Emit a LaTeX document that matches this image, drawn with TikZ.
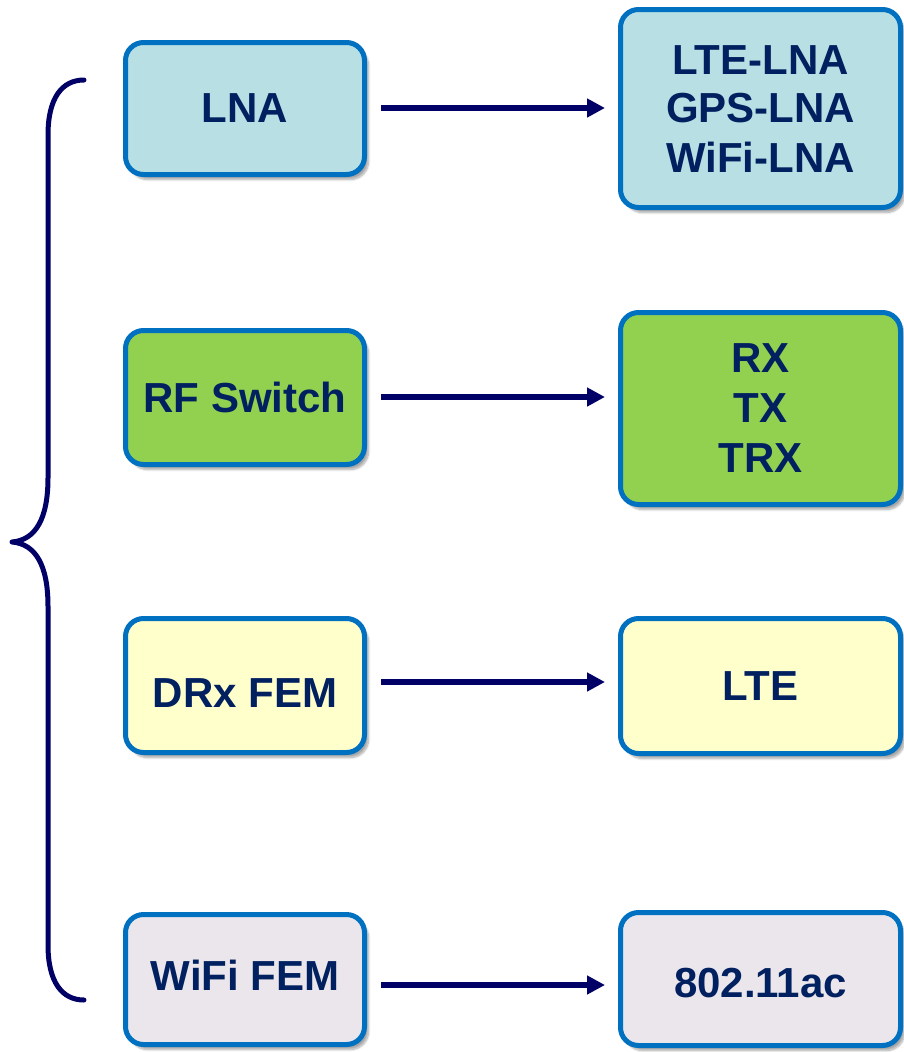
\documentclass[tikz,border=0pt]{standalone}
\usepackage{fontspec}
\setmainfont{Liberation Sans}
\usetikzlibrary{arrows.meta,shadows.blur}
\definecolor{navy}{HTML}{000066}
\definecolor{txt}{HTML}{002060}
\definecolor{bord}{HTML}{0070C0}
\definecolor{lnafill}{HTML}{B8DFE4}
\definecolor{rffill}{HTML}{92D050}
\definecolor{drxfill}{HTML}{FFFFCC}
\definecolor{wififill}{HTML}{EBE6EB}
\begin{document}
\begin{tikzpicture}[x=1pt,y=-1pt,
  box/.style={draw=bord, line width=5pt, rounded corners=18pt, align=center,
    text=txt, font=\fontsize{42}{50}\selectfont\bfseries, inner sep=0pt,
    blur shadow={shadow xshift=4pt, shadow yshift=-5pt, shadow blur steps=8, shadow opacity=35}},
  lbox/.style={box, minimum width=239pt},
  rbox/.style={box, minimum width=280pt},
  arr/.style={draw=navy, line width=6pt, -{Triangle[length=18pt,width=18pt]},
    shorten <=14pt, shorten >=13pt},
  brace/.style={draw=navy, line width=5pt, line cap=round, line join=round}
]
\useasboundingbox (0,0) rectangle (903,1052);

% left boxes
\node[lbox, fill=lnafill, minimum height=132pt] (lna) at (245,108.5) {LNA};
\node[lbox, fill=rffill, minimum height=134pt] (rf) at (245,397.5) {RF Switch};
\node[lbox, fill=drxfill, minimum height=134pt] (drx) at (245,685.5) {\raisebox{-7.5pt}[\height][\depth]{DRx FEM}};
\node[lbox, fill=wififill, minimum height=130pt] (wifi) at (245,979.5) {\raisebox{4.5pt}[\height][\depth]{WiFi FEM}};

% right boxes
\node[rbox, fill=lnafill, minimum height=198pt] (lnar) at (760.5,108.5) {\raisebox{-1.5pt}[\height][\depth]{LTE-LNA}\\GPS-LNA\\WiFi-LNA};
\node[rbox, fill=rffill, minimum height=192pt] (rfr) at (760.5,408.5) {RX\\TX\\TRX};
\node[rbox, fill=drxfill, minimum height=135pt] (lte) at (760.5,686) {LTE};
\node[rbox, fill=wififill, minimum height=133pt] (wifir) at (760.5,979) {\raisebox{-4pt}[\height][\depth]{802.11ac}};

% arrows
\coordinate (lnao) at ([yshift=0.5pt]lna.east);
\coordinate (rfo) at ([yshift=0.5pt]rf.east);
\coordinate (drxo) at ([yshift=3.5pt]drx.east);
\coordinate (wifio) at ([yshift=-5.5pt]wifi.east);
\draw[arr] (lnao) -- (lnao -| lnar.west);
\draw[arr] (rfo) -- (rfo -| rfr.west);
\draw[arr] (drxo) -- (drxo -| lte.west);
\draw[arr] (wifio) -- (wifio -| wifir.west);

% brace
\draw[brace] (84,80) .. controls (62,80) and (48,98) .. (48,135)
  -- (48,478) .. controls (48,518) and (36,540) .. (12,542)
  .. controls (36,544) and (48,566) .. (48,606)
  -- (48,945) .. controls (48,982) and (62,1000) .. (84,1000);
\end{tikzpicture}
\end{document}
